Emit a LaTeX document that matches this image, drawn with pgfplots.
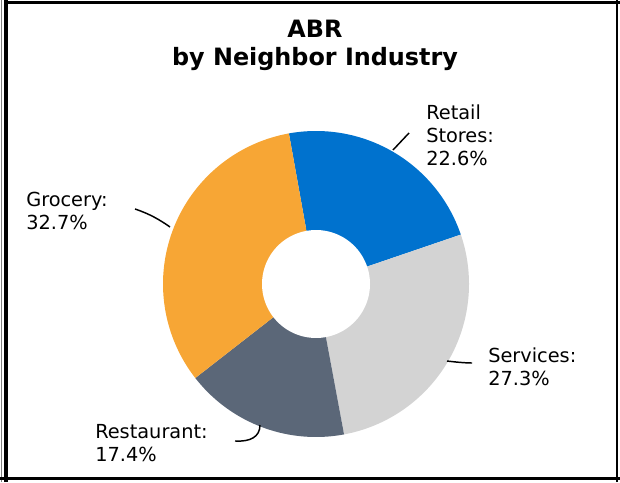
\documentclass[border=0pt]{standalone}
\usepackage{fontspec}
\setmainfont{DejaVu Sans}
\usepackage{pgfplots}
\usepackage{pgfplotstable}
\pgfplotsset{compat=1.18}
\definecolor{retail}{RGB}{0,114,206}
\definecolor{services}{RGB}{211,211,211}
\definecolor{restaurant}{RGB}{91,103,120}
\definecolor{grocery}{RGB}{247,166,53}

\pgfplotstableread{
label pct
Retail 22.6
Services 27.3
Restaurant 17.4
Grocery 32.7
}\abrdata

\newcommand\lab{\fontsize{14.5}{17}\selectfont}
\newcommand\ttl{\bfseries\fontsize{17.9}{20}\selectfont}

\begin{document}
\begin{tikzpicture}[x=0.75pt,y=0.75pt]
\useasboundingbox (0,0) rectangle (620,482);
\pgfplotstablegetelem{0}{pct}\of\abrdata \pgfmathsetmacro\pA{\pgfplotsretval}
\pgfplotstablegetelem{1}{pct}\of\abrdata \pgfmathsetmacro\pB{\pgfplotsretval}
\pgfplotstablegetelem{2}{pct}\of\abrdata \pgfmathsetmacro\pC{\pgfplotsretval}
\pgfplotstablegetelem{3}{pct}\of\abrdata \pgfmathsetmacro\pD{\pgfplotsretval}
\pgfmathsetmacro\aZ{100.2}
\pgfmathsetmacro\aA{\aZ-3.6*\pA}
\pgfmathsetmacro\aB{\aA-3.6*\pB}
\pgfmathsetmacro\aC{\aB-3.6*\pC}
\pgfmathsetmacro\aD{\aC-3.6*\pD}
\begin{axis}[at={(0,0)}, anchor=south west, scale only axis,
  width=465pt, height=361.5pt, xmin=0, xmax=620, ymin=0, ymax=482,
  hide axis, clip=false]
\addplot[fill=retail, draw=none, domain=\aA:\aZ, samples=90, variable=\t]
  ({316+153*cos(\t)},{198+153*sin(\t)}) -- (axis cs:316,198) -- cycle;
\addplot[fill=services, draw=none, domain=\aB:\aA, samples=90, variable=\t]
  ({316+153*cos(\t)},{198+153*sin(\t)}) -- (axis cs:316,198) -- cycle;
\addplot[fill=restaurant, draw=none, domain=\aC:\aB, samples=90, variable=\t]
  ({316+153*cos(\t)},{198+153*sin(\t)}) -- (axis cs:316,198) -- cycle;
\addplot[fill=grocery, draw=none, domain=\aD:\aC, samples=90, variable=\t]
  ({316+153*cos(\t)},{198+153*sin(\t)}) -- (axis cs:316,198) -- cycle;
\addplot[fill=white, draw=none, domain=0:360, samples=120, variable=\t]
  ({316+54*cos(\t)},{198+54*sin(\t)}) -- cycle;

% leader lines
\draw[line width=1.1pt] (axis cs:393,332) -- (axis cs:409,349);
\draw[line width=1.1pt] (axis cs:135,273) .. controls (axis cs:150,268) and (axis cs:160,262) .. (axis cs:170,255);
\draw[line width=1.1pt] (axis cs:447,121) .. controls (axis cs:455,120) and (axis cs:465,119) .. (axis cs:472,119);
\draw[line width=1.1pt] (axis cs:235,41) .. controls (axis cs:250,40) and (axis cs:260,45) .. (axis cs:260,57);

% labels
\begin{scope}[every node/.style={anchor=base west, inner sep=0pt, font=\lab}]
\node at (axis cs:426,362) {Retail};
\node at (axis cs:426,339) {Stores:};
\node at (axis cs:426,316) {22.6\%};
\node at (axis cs:26,275) {Grocery:};
\node at (axis cs:26,252) {32.7\%};
\node at (axis cs:488,120) {Services:};
\node at (axis cs:488,97) {27.3\%};
\node at (axis cs:95,44) {Restaurant:};
\node at (axis cs:95,21) {17.4\%};
\end{scope}
\node[anchor=base, inner sep=0pt, font=\ttl] at (axis cs:315,444) {ABR};
\node[anchor=base, inner sep=0pt, font=\ttl] at (axis cs:315,416) {by Neighbor Industry};
\end{axis}
% frame
\draw[line width=0.75pt, gray] (1,0) -- (1,482);
\draw[line width=3pt] (6,0) -- (6,482);
\draw[line width=2.25pt] (4,479.5) -- (620,479.5);
\draw[line width=1.75pt] (617,0) -- (617,482);
\draw[line width=2.25pt] (0,3.5) -- (620,3.5);
\end{tikzpicture}
\end{document}
